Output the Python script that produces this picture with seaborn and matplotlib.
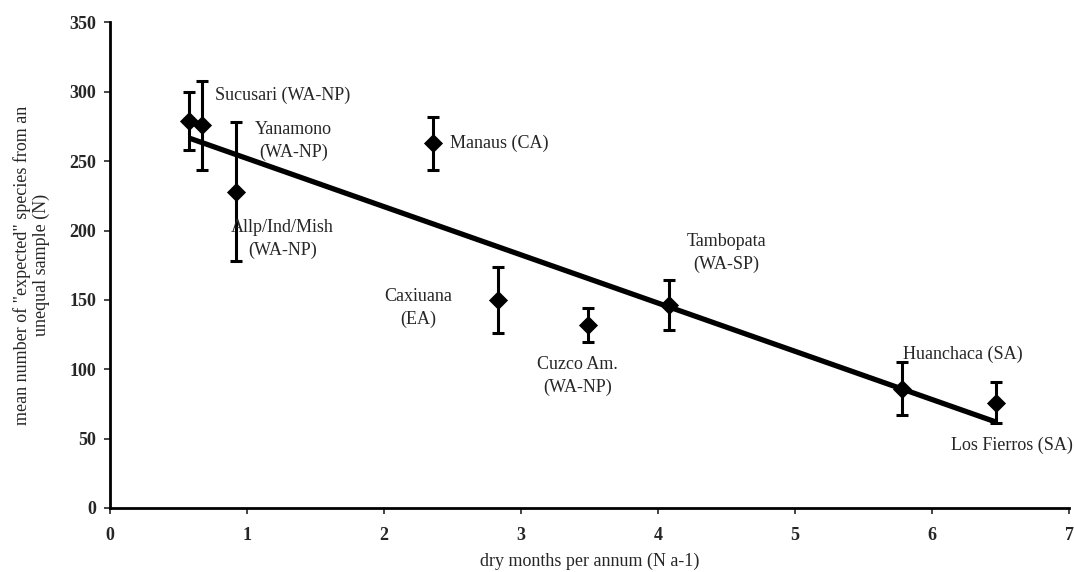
import matplotlib
matplotlib.use("Agg")
import matplotlib.pyplot as plt
import seaborn as sns
import numpy as np
import pandas as pd

# Sites, dry-season length and rarefied species richness
sites = ["Sucusari (WA-NP)", "Yanamono\n(WA-NP)", "Allp/Ind/Mish\n(WA-NP)", "Manaus (CA)",
         "Caxiuana\n(EA)", "Cuzco Am.\n(WA-NP)", "Tambopata\n(WA-SP)", "Huanchaca (SA)",
         "Los Fierros (SA)"]
dry_months = [0.58, 0.67, 0.92, 2.36, 2.83, 3.49, 4.08, 5.78, 6.47]
species_n = [279, 276, 228, 263, 150, 132, 146, 86, 76]
species_err = [21, 32, 50, 19, 24, 12, 18, 19, 15]

x_ticks = [0, 1, 2, 3, 4, 5, 6, 7]
y_ticks = [0, 50, 100, 150, 200, 250, 300, 350]

df = pd.DataFrame({"site": sites, "dry": dry_months, "n": species_n, "err": species_err})

sns.set_style("ticks")
plt.rcParams["font.family"] = ["Liberation Serif", "DejaVu Serif"]

fig = plt.figure(figsize=(10.74, 5.72), dpi=100)
ax = fig.add_axes([0.1024, 0.1119, 0.893, 0.8488])

# Least-squares fit across all sites
sns.regplot(data=df, x="dry", y="n", ci=None, scatter=False, ax=ax,
            line_kws=dict(color="black", lw=3.8, solid_capstyle="butt", zorder=2))

ax.errorbar(df["dry"], df["n"], yerr=df["err"], fmt="none", ecolor="black",
            elinewidth=2.2, capsize=4.5, capthick=2.2, zorder=3)
sns.scatterplot(data=df, x="dry", y="n", marker="D", color="black", s=95,
                edgecolor="black", linewidth=0, ax=ax, zorder=4)

# Site labels: (x, y, horizontal alignment)
label_pos = [
    (0.77, 297.5, "left"),
    (1.34, 264.5, "center"),
    (1.26, 194, "center"),
    (2.48, 263, "left"),
    (2.25, 144, "center"),
    (3.41, 95, "center"),
    (4.50, 184, "center"),
    (5.79, 110.5, "left"),
    (6.14, 45, "left"),
]
for name, (lx, ly, ha) in zip(sites, label_pos):
    ax.text(lx, ly, name, ha=ha, va="center", fontsize=13, linespacing=1.45)

ax.set_xlim(0, 7)
ax.set_ylim(0, 350)
ax.set_xticks(x_ticks)
ax.set_yticks(y_ticks)
ax.tick_params(axis="both", direction="out", length=4, width=1.2, labelsize=13, pad=6)
for lab in ax.get_xticklabels() + ax.get_yticklabels():
    lab.set_fontweight("bold")
ax.tick_params(axis="x", pad=10)

sns.despine(ax=ax)
for side in ("left", "bottom"):
    ax.spines[side].set_linewidth(2)
    ax.spines[side].set_color("black")

ax.set_xlabel("dry months per annum (N a-1)", fontsize=13, labelpad=6)
ax.set_ylabel('mean number of "expected" species from an\nunequal sample (N)',
              fontsize=13, labelpad=14, linespacing=1.1)

fig.savefig("out.png", dpi=100)
